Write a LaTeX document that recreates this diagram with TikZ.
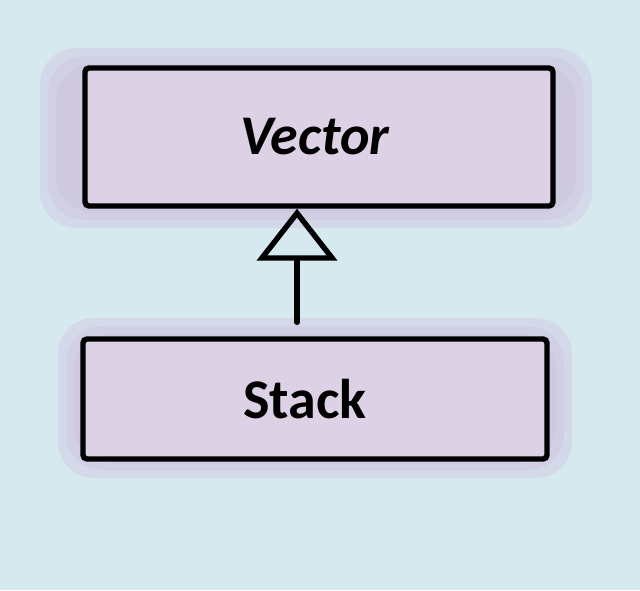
\documentclass[tikz,border=0pt]{standalone}
\usepackage{fontspec}
\setmainfont{Carlito}
\usetikzlibrary{arrows.meta}
\definecolor{bgblue}{RGB}{214,233,239}
\definecolor{washpurple}{RGB}{206,190,220}
\definecolor{boxpurple}{RGB}{221,210,229}
\tikzset{
  classbox/.style={draw=black, line width=2.7pt, fill=boxpurple, rounded corners=2pt,
    font=\fontsize{28}{32}\selectfont\bfseries, inner sep=0pt},
  wash/.style={fill=washpurple, rounded corners=18pt, fill opacity=0.35},
  inherit/.style={draw=black, line width=2.7pt, line cap=round,
    -{Triangle[open, length=26pt, width=40pt, line width=2.7pt]}}
}
\begin{document}
\begin{tikzpicture}[x=0.5pt,y=-0.5pt]
  \fill[bgblue] (0,0) rectangle (640,590);
  \useasboundingbox (0,0) rectangle (640,590);
  % watercolor washes
  \foreach \d in {0,8,16}{
    \fill[wash] (40+\d,48+\d) rectangle (592-\d,228-\d);
    \fill[wash] (58+\d,318+\d) rectangle (572-\d,478-\d);
  }
  \node[classbox, minimum width=234pt, minimum height=69pt] (vector) at (319,137) {\itshape Vector\hspace*{4pt}};
  \node[classbox, minimum width=232pt, minimum height=60pt] (stack) at (315,399) {Stack\hspace*{10pt}};
  \draw[inherit, shorten <=7pt] ([xshift=-9pt]stack.north) -- ([xshift=-9pt]stack.north |- vector.south);
\end{tikzpicture}
\end{document}
